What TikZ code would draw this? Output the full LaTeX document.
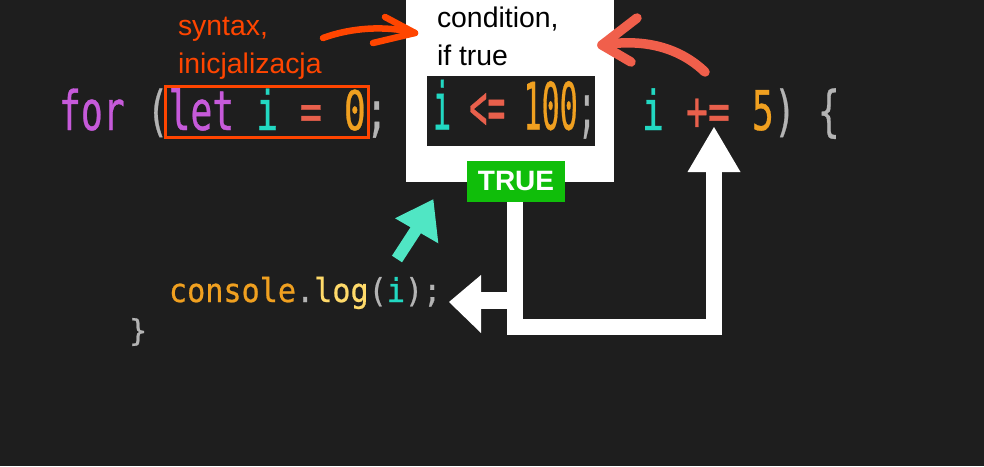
\documentclass[tikz,border=0pt]{standalone}
\usepackage{fontspec}
\usepackage{graphicx}
\setmainfont{Liberation Sans}
\newfontfamily\codefont{DejaVu Sans Mono}[FakeBold=0.7]
\usetikzlibrary{calc}
\definecolor{bg}{HTML}{1E1E1E}
\definecolor{kwc}{HTML}{C65ADA}
\definecolor{punc}{HTML}{B4B4B4}
\definecolor{varc}{HTML}{22D8C2}
\definecolor{opc}{HTML}{E8604C}
\definecolor{numc}{HTML}{F0A020}
\definecolor{fnc}{HTML}{FFDA6A}
\definecolor{annot}{HTML}{FF4500}
\definecolor{tomatoc}{HTML}{F05F4B}
\definecolor{tealc}{HTML}{50E6C4}
\definecolor{truegreen}{HTML}{10BE0A}
\newcommand{\ckw}[1]{\textcolor{kwc}{#1}}
\newcommand{\cpn}[1]{\textcolor{punc}{#1}}
\newcommand{\cvr}[1]{\textcolor{varc}{#1}}
\newcommand{\cop}[1]{\textcolor{opc}{#1}}
\newcommand{\cnm}[1]{\textcolor{numc}{#1}}
\newcommand{\cfn}[1]{\textcolor{fnc}{#1}}
\tikzset{
  codetxt/.style={inner sep=0pt, outer sep=0pt, anchor=base west},
  note/.style={inner sep=0pt, outer sep=0pt, anchor=base west, align=left, font=\fontsize{28.4}{38}\selectfont},
  thickwhite/.style={draw=white, line width=16pt, line join=miter},
  handdrawn/.style={line cap=round, line join=round},
}
\begin{document}
\begin{tikzpicture}[x=1pt,y=-1pt]
\useasboundingbox (0,0) rectangle (984,466);
\fill[bg] (0,0) rectangle (984,466);

% condition box
\node[fill=white, minimum width=208pt, minimum height=182pt, inner sep=0pt] (condbox) at (510,91) {};
\node[fill=bg, minimum width=168pt, minimum height=70pt, inner sep=0pt] (condbg) at (511,111) {};
\node[note, text=black] (condtext) at (437,65) {condition,\\if true};

% code line 1
\node[codetxt] (initcode) at (59,130) {\codefont\fontsize{36.4}{40}\selectfont\scalebox{1}[1.5]{\ckw{for} \cpn{(}\ckw{let} \cvr{i} \cop{=} \cnm{0}\cpn{;}}};
\node[codetxt] (condcode) at (433,129.5) {\codefont\fontsize{30.07}{34}\selectfont\scalebox{1}[2.17]{\cvr{i} \cop{<=} \cnm{100}\cpn{;}}};
\node[codetxt] (inccode) at (642,130) {\codefont\fontsize{36.5}{40}\selectfont\scalebox{1}[1.5]{\cvr{i} \cop{+=} \cnm{5}\cpn{)} \cpn{\{}}};

% code line 2, 3
\node[codetxt] (logcode) at (169,302) {\codefont\fontsize{30.15}{34}\selectfont\scalebox{1}[1.09]{\cnm{console}\cpn{.}\cfn{log}\cpn{(}\cvr{i}\cpn{)}\cpn{;}}};
\node[codetxt] (closebrace) at (129,341) {\codefont\fontsize{30.15}{34}\selectfont\cpn{\}}};

% initialisation frame and note
\node[draw=annot, line width=3pt, minimum width=203pt, minimum height=51pt, inner sep=0pt] (initbox) at (266.5,112) {};
\node[note, text=annot] (synnote) at (178,73) {syntax,\\inicjalizacja};

% TRUE label
\node[fill=truegreen, text=white, font=\bfseries\fontsize{28}{30}\selectfont, minimum width=98pt, minimum height=41pt, inner sep=0pt] (truelbl) at (516,181.5) {TRUE};

% white loop connector
\coordinate (loopcorner) at (714,326.5);
\coordinate (incbase) at (714,172);
\coordinate (inctip) at (714,127);
\draw[thickwhite] ([xshift=-1pt]truelbl.south) |- (loopcorner) -- (incbase);
\fill[white] ($(incbase)+(-26.5,0)$) -- ($(incbase)+(26.5,0)$) -- (inctip) -- cycle;

\coordinate (split) at (515,300.5);
\coordinate (logbase) at (481,300.5);
\coordinate (logtip) at (449,302);
\draw[draw=white, line width=17pt] (split) -- (logbase);
\fill[white] ($(logbase)+(0,-25.5)$) -- ($(logbase)+(0,32.5)$) -- (logtip) -- cycle;

% teal arrow
\coordinate (tealtail) at (397,259);
\coordinate (tealbase) at (416.5,229);
\draw[tealc, line width=12pt] (tealtail) -- (tealbase);
\fill[tealc] (395,218.3) -- (433.3,199.3) -- (438.3,243.3) -- cycle;

% hand-drawn red arrows
\coordinate (synstart) at (323,38);
\coordinate (syntip) at (415,33);
\draw[annot, line width=6.5pt, handdrawn] (synstart) .. controls (350,28) and (385,25) .. (syntip);
\draw[annot, line width=6.5pt, handdrawn] (385,17) -- (syntip) -- (373,43);

\coordinate (incstart) at (705,72);
\coordinate (condtip) at (602,45);
\draw[tomatoc, line width=9.5pt, handdrawn] (incstart) .. controls (680,48) and (645,38) .. (condtip);
\draw[tomatoc, line width=9.5pt, handdrawn] (637,18) -- (condtip) -- (631,62);
\end{tikzpicture}
\end{document}
